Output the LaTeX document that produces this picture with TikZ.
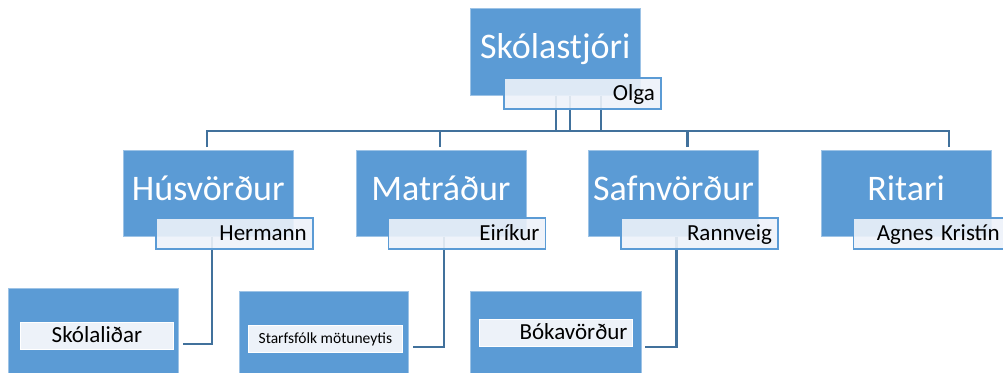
\documentclass[tikz,border=0pt]{standalone}
\usepackage{fontspec}
\setmainfont{Carlito}
\usetikzlibrary{positioning}
\definecolor{chartblue}{HTML}{5B9BD5}
\definecolor{linkblue}{HTML}{41719C}
\definecolor{namefill}{HTML}{EDF2F9}

\begin{document}
\begin{tikzpicture}[x=1pt,y=-1pt,
	title node/.style={rectangle,fill=chartblue,draw=chartblue!60!white,line width=.6pt,anchor=north west,minimum width=170pt,minimum height=86pt,inner sep=0pt,text=white,font=\fontsize{36}{40}\selectfont,text height=27pt,text depth=13pt},
	name node/.style={rectangle,fill=namefill,fill opacity=.9,text opacity=1,draw=chartblue,line width=1.6pt,anchor=north west,minimum width=157pt,minimum height=31pt,inner xsep=6pt,inner ysep=0pt,text width=145pt,align=right,text height=15pt,text depth=1pt,font=\fontsize{23}{25}\selectfont},
	staff node/.style={rectangle,fill=chartblue,draw=chartblue!60!white,line width=.6pt,anchor=north west,minimum width=170pt,minimum height=112pt},
	tag node/.style={rectangle,fill=namefill,draw=white,line width=.8pt,anchor=north west,minimum width=153pt,minimum height=27pt,inner sep=0pt,text height=15pt,text depth=2pt,font=\fontsize{23}{25}\selectfont},
	link/.style={draw=linkblue,line width=2.2pt}]

	\useasboundingbox (0,0) rectangle (1003,372);
	\clip (0,0) rectangle (1003,372);

	\node[title node,minimum height=87pt] (stjori) at (470,8) {Skólastjóri};
	\node[title node] (husv) at (123,150) {Húsvörður};
	\node[title node] (matr) [right=62pt of husv] {Matráður};
	\node[title node] (safn) [right=62pt of matr] {Safnvörður};
	\node[title node] (ritari) [right=62pt of safn] {Ritari};

	\node[staff node] (lidar) at (8,288) {};
	\node[staff node,minimum width=169pt] (motu) at (239,291) {};
	\node[staff node,minimum width=171pt] (bok) at (470,291) {};

	\coordinate (bus) at (570,131);

	\draw[link] ([xshift=-1pt,yshift=3pt]husv.north) |- (bus) -| ([xshift=43pt,yshift=3pt]ritari.north);
	\draw[link] ([xshift=-1pt,yshift=3pt]matr.north) -- ([xshift=-1pt]matr.north |- bus);
	\draw[link] ([xshift=14pt,yshift=3pt]safn.north) -- ([xshift=14pt]safn.north |- bus);
	\foreach \dx in {1,15,46}
		\draw[link] ([xshift=\dx pt]stjori.south) -- ([xshift=\dx pt]stjori.south |- bus);

	\draw[link] ([xshift=4pt]husv.south) |- ([xshift=4pt]lidar.east);
	\draw[link] ([xshift=3pt]matr.south) |- ([xshift=4pt]motu.east);
	\draw[link] ([xshift=3pt]safn.south) |- ([xshift=3pt]bok.east);

	\node[name node] (olga) at ([xshift=33pt,yshift=-69pt]stjori.north west) {Olga};
	\node[name node] (hermann) at ([xshift=32pt,yshift=-67pt]husv.north west) {Hermann};
	\node[name node] (eirikur) at ([xshift=32pt,yshift=-67pt]matr.north west) {Eiríkur};
	\node[name node] (rannveig) at ([xshift=32pt,yshift=-67pt]safn.north west) {Rannveig};
	\node[name node,inner xsep=11pt,text width=135pt] (agnes) at ([xshift=32pt,yshift=-67pt]ritari.north west) {Agnes Kristín};

	\node[tag node] (lidartag) at (20,322) {Skólaliðar};
	\node[tag node,minimum width=154pt,text height=10pt,text depth=1.5pt,font=\fontsize{15.5}{17}\selectfont] (mototag) at (248,325) {Starfsfólk mötuneytis};
	\node[tag node,inner xsep=5pt,text width=143pt,align=right] (boktag) at (479,319) {Bókavörður};
	%\node[tag node] (x) at (0,0) {};

\end{tikzpicture}
\end{document}
